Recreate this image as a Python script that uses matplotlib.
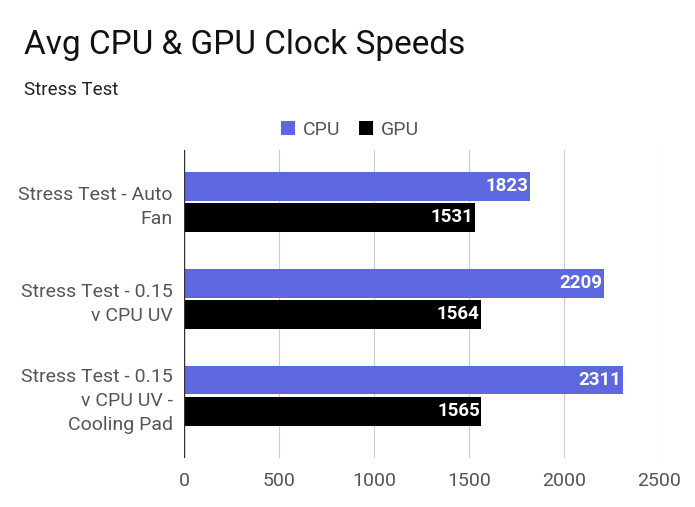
import matplotlib
matplotlib.use("Agg")
import matplotlib.pyplot as plt
import numpy as np

categories = ["Stress Test - Auto\nFan", "Stress Test - 0.15\nv CPU UV", "Stress Test - 0.15\nv CPU UV -\nCooling Pad"]
cpu = [1823, 2209, 2311]
gpu = [1531, 1564, 1565]
xticks = [0, 500, 1000, 1500, 2000, 2500]

plt.rcParams["font.family"] = "Roboto"
W, H = 695, 507
fig = plt.figure(figsize=(W/100, H/100), dpi=100)
left, right, top, bot = 184, 659, 150, 458
ax = fig.add_axes([left/W, 1-bot/H, (right-left)/W, (bot-top)/H])
y = np.arange(len(categories))
off, h = 0.16, 0.29
b1 = ax.barh(y-off, cpu, height=h, color="#5C67E0", label="CPU", zorder=3)
b2 = ax.barh(y+off, gpu, height=h, color="#000000", label="GPU", zorder=3)
for bars in (b1, b2):
    for r in bars:
        ax.text(r.get_width()-8, r.get_y()+r.get_height()/2, f"{int(r.get_width())}",
                ha="right", va="center", color="white", fontweight="bold", fontsize=13.5, zorder=4)
ax.set_xlim(0, 2500)
ax.set_ylim(2.64, -0.536)
ax.set_xticks(xticks)
ax.set_yticks(y)
ax.set_yticklabels(categories, linespacing=1.45)
ax.grid(axis="x", color="#cccccc", lw=0.8, zorder=0)
for s in ax.spines.values():
    s.set_visible(False)
ax.axvline(0, color="#333333", lw=1, zorder=5)
ax.tick_params(length=0, labelsize=14, labelcolor="#555555", pad=8)
ax.tick_params(axis="x", pad=10)
fig.text(24/W, 1-45/H, "Avg CPU & GPU Clock Speeds", fontsize=24, va="center", color="#111111")
fig.text(24/W, 1-90/H, "Stress Test", fontsize=13.5, va="center", color="#222222")
fig.legend(handles=[b1, b2], loc="center", bbox_to_anchor=(350/W, 1-130/H), ncol=2, frameon=False,
           fontsize=14, handlelength=0.7, handleheight=0.7, columnspacing=1.0, handletextpad=0.4,
           labelcolor="#555555")
fig.savefig("out.png", dpi=100)
